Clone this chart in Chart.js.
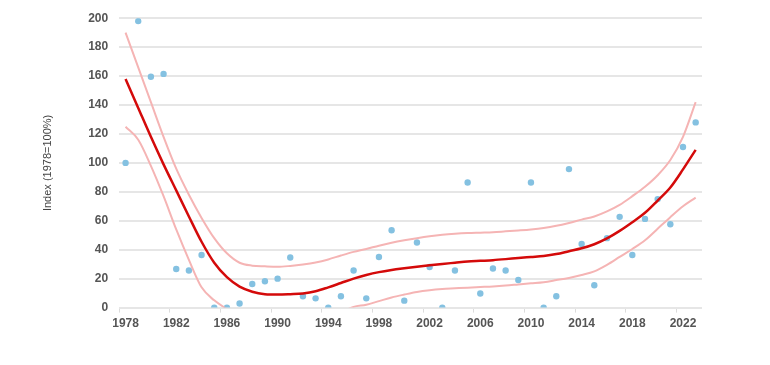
<!DOCTYPE html>
<html>
<head>
<meta charset="utf-8">
<script src="https://cdn.jsdelivr.net/npm/chart.js@4"></script>
<style>
  html, body { margin: 0; padding: 0; background: #fff; }
  #wrap { width: 770px; height: 365px; position: relative; }
</style>
</head>
<body>
<div id="wrap"><canvas id="myChart"></canvas></div>
<script>
const years = [
  '1978', '1979', '1980', '1981', '1982', '1983', '1984', '1985', '1986', '1987',
  '1988', '1989', '1990', '1991', '1992', '1993', '1994', '1995', '1996', '1997',
  '1998', '1999', '2000', '2001', '2002', '2003', '2004', '2005', '2006', '2007',
  '2008', '2009', '2010', '2011', '2012', '2013', '2014', '2015', '2016', '2017',
  '2018', '2019', '2020', '2021', '2022', '2023'
]

// yearly index values (dots)
const observed = [
  100, 198, 159.5, 161.5, 26.7, 25.6, 36.4, 0, 0, 2.8,
  16.3, 18.2, 20, 34.6, 7.8, 6.4, 0, 7.8, 25.6, 6.4,
  35, 53.5, 4.8, 45, 28.1, 0, 25.6, 86.5, 9.7, 27,
  25.6, 19.1, 86.5, 0, 7.8, 95.7, 44, 15.4, 48, 62.7,
  36.4, 61.3, 75, 57.6, 111, 128
]

// smoothed trend
const trend = [
  158, 138, 118, 99, 81, 63, 45.5, 31, 21, 14.5,
  11, 9.3, 9, 9.3, 9.8, 11.3, 14, 17, 20, 22.5,
  24.5, 26, 27.2, 28.3, 29.3, 30.2, 31, 31.8, 32.3, 32.8,
  33.5, 34.3, 35, 35.7, 37, 39, 41, 43.8, 47.8, 53,
  59, 65.5, 74, 83, 95.5, 109
]

// confidence band
const upper = [
  190, 166, 142, 118, 96, 78, 62, 48, 37.5, 31,
  29, 28.5, 28.2, 28.8, 29.8, 31.2, 33.3, 36, 38.5, 40.5,
  42.8, 44.8, 46.5, 48, 49.3, 50.3, 51, 51.5, 51.8, 52.1,
  52.7, 53.3, 54, 55, 56.5, 58.5, 60.8, 63, 66.5, 71,
  77, 83.5, 91.5, 102, 118, 142
]
const lower = [
  125, 116, 98, 77, 54, 33, 14, 5, -1, -6,
  -9, -11, -12, -12, -11.5, -10, -7.5, -3.5, 0.5, 2,
  4.5, 7, 9, 10.8, 12, 12.8, 13.3, 13.8, 14.2, 14.6,
  15.2, 16, 16.8, 17.6, 19, 20.5, 22.5, 25, 29.5, 35,
  40.5, 46.5, 54.5, 62.5, 70, 76
]

const yTicks = [0, 20, 40, 60, 80, 100, 120, 140, 160, 180, 200]

const font = 'Liberation Sans, Arial, Helvetica, sans-serif'
const ctx = document.getElementById('myChart')

const lineStyle = {
  pointRadius: 0,
  pointHoverRadius: 0,
  fill: false,
  cubicInterpolationMode: 'monotone',
  clip: 0
}

new Chart(ctx, {
  type: 'line',
  data: {
    labels: years,
    datasets: [
      { ...lineStyle, label: 'Trend', data: trend, borderColor: '#d40a0a', borderWidth: 2.5 },
      { ...lineStyle, label: 'Upper', data: upper, borderColor: '#f5b4b4', borderWidth: 2 },
      { ...lineStyle, label: 'Lower', data: lower, borderColor: '#f5b4b4', borderWidth: 2 },
      {
        label: 'Index',
        data: observed,
        showLine: false,
        pointRadius: 3.2,
        pointBorderWidth: 0,
        pointBackgroundColor: '#84c1e1',
        pointBorderColor: '#84c1e1'
      }
    ]
  },
  options: {
    responsive: true,
    maintainAspectRatio: false,
    animation: false,
    layout: { padding: { left: 41, right: 68, top: 12, bottom: 30 } },
    plugins: {
      legend: { display: false },
      tooltip: { enabled: false }
    },
    scales: {
      x: {
        type: 'category',
        offset: true,
        border: { display: false },
        grid: {
          offset: true,
          drawOnChartArea: false,
          tickLength: 5,
          tickColor: (c) => (c.index % 4 === 0 ? '#dcdcdc' : 'rgba(0,0,0,0)')
        },
        ticks: {
          autoSkip: false,
          maxRotation: 0,
          padding: 4,
          color: '#555',
          font: { family: font, size: 12, weight: 'bold' },
          callback: function (v, i) { return i % 4 === 0 ? years[i] : '' }
        }
      },
      y: {
        min: 0,
        max: 200,
        border: { display: false },
        grid: { color: '#e6e6e6', lineWidth: 2, drawTicks: false },
        afterBuildTicks: (axis) => { axis.ticks = yTicks.map(v => ({ value: v })) },
        ticks: {
          padding: 11,
          color: '#555',
          font: { family: font, size: 12, weight: 'bold' }
        },
        title: {
          display: true,
          text: 'Index (1978=100%)',
          color: '#444',
          padding: { top: 0, bottom: 23 },
          font: { family: font, size: 11 }
        }
      }
    }
  }
})
</script>
</body>
</html>
